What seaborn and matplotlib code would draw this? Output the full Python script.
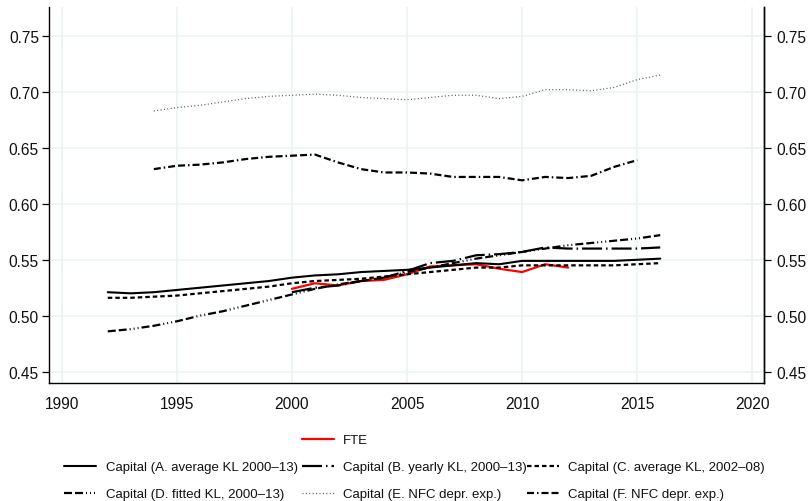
import matplotlib
matplotlib.use("Agg")
import matplotlib.pyplot as plt
import seaborn as sns
from matplotlib.lines import Line2D

sns.set_theme(style="white")
plt.rcParams["font.family"] = ["Liberation Sans", "DejaVu Sans"]
plt.rcParams["lines.scale_dashes"] = False

# ---- data -------------------------------------------------------------
years_fte = list(range(2000, 2013))
fte = [0.524, 0.529, 0.527, 0.531, 0.532, 0.537, 0.544, 0.545, 0.546,
       0.542, 0.539, 0.546, 0.543]

years_full = list(range(1992, 2017))
cap_a = [0.521, 0.520, 0.521, 0.523, 0.525, 0.527, 0.529, 0.531, 0.534,
         0.536, 0.537, 0.539, 0.540, 0.541, 0.543, 0.545, 0.547, 0.546,
         0.549, 0.549, 0.549, 0.549, 0.549, 0.550, 0.551]
cap_c = [0.516, 0.516, 0.517, 0.518, 0.520, 0.522, 0.524, 0.526, 0.529,
         0.531, 0.532, 0.533, 0.535, 0.537, 0.539, 0.541, 0.543, 0.543,
         0.545, 0.545, 0.545, 0.545, 0.545, 0.546, 0.547]
cap_d = [0.486, 0.488, 0.491, 0.495, 0.500, 0.504, 0.509, 0.514, 0.519,
         0.524, 0.528, 0.531, 0.534, 0.539, 0.543, 0.547, 0.551, 0.554,
         0.557, 0.560, 0.563, 0.565, 0.567, 0.569, 0.572]

years_b = list(range(2000, 2017))
cap_b = [0.521, 0.525, 0.527, 0.531, 0.534, 0.540, 0.547, 0.549, 0.554,
         0.555, 0.557, 0.561, 0.560, 0.560, 0.560, 0.560, 0.561]

years_e = list(range(1994, 2017))
cap_e = [0.683, 0.686, 0.688, 0.691, 0.694, 0.696, 0.697, 0.698, 0.697,
         0.695, 0.694, 0.693, 0.695, 0.697, 0.697, 0.694, 0.696, 0.702,
         0.702, 0.701, 0.704, 0.711, 0.715]

years_f = list(range(1994, 2016))
cap_f = [0.631, 0.634, 0.635, 0.637, 0.640, 0.642, 0.643, 0.644, 0.637,
         0.631, 0.628, 0.628, 0.627, 0.624, 0.624, 0.624, 0.621, 0.624,
         0.623, 0.625, 0.633, 0.639]

labels = ["FTE",
          "Capital (A. average KL 2000\u201313)",
          "Capital (B. yearly KL, 2000\u201313)",
          "Capital (C. average KL, 2002\u201308)",
          "Capital (D. fitted KL, 2000\u201313)",
          "Capital (E. NFC depr. exp.)",
          "Capital (F. NFC depr. exp.)"]

yticks = [0.45, 0.50, 0.55, 0.60, 0.65, 0.70, 0.75]
xticks = [1990, 1995, 2000, 2005, 2010, 2015, 2020]

# ---- styles (dash patterns given in pixels, converted to points) -------
PX = 0.72


def pat(*px):
    return (0, tuple(v * PX for v in px))


styles = [
    dict(color="#ff0000", lw=1.6, ls="-"),
    dict(color="black", lw=1.5, ls="-"),
    dict(color="black", lw=1.6, ls=pat(20, 4, 1.5, 4)),
    dict(color="black", lw=1.6, ls=pat(4.5, 3)),
    dict(color="black", lw=1.6, ls=pat(8, 3, 8, 3, 1, 3, 1, 3, 1, 3)),
    dict(color="#555555", lw=0.9, ls=pat(1, 2.4)),
    dict(color="black", lw=1.6, ls=pat(7, 3, 1.5, 3, 7, 3)),
]

series = [(years_fte, fte), (years_full, cap_a), (years_b, cap_b),
          (years_full, cap_c), (years_full, cap_d), (years_e, cap_e),
          (years_f, cap_f)]

# ---- figure -----------------------------------------------------------
W, H = 808, 502
fig = plt.figure(figsize=(W / 100, H / 100), dpi=100)
ax = fig.add_axes([49.3 / W, 1 - 384.3 / H, (764.3 - 49.3) / W,
                   (384.3 - 8.3) / H])

for (xs, ys), st in zip(series, styles):
    sns.lineplot(x=xs, y=ys, ax=ax, color=st["color"], linewidth=st["lw"],
                 linestyle=st["ls"], legend=False)

ax.set_xlim(1989.46, 2020.52)
ax.set_ylim(0.4396, 0.7756)
ax.set_xticks(xticks)
ax.set_yticks(yticks)
ax.set_yticklabels([f"{v:.2f}" for v in yticks])
grid_c = "#eaf2f3"
ax.grid(True, color=grid_c, linewidth=1.1)
ax.set_axisbelow(True)

for s in ["left", "bottom", "right"]:
    ax.spines[s].set_visible(True)
    ax.spines[s].set_color("black")
    ax.spines[s].set_linewidth(1.0)
ax.spines["top"].set_visible(False)

FS = 11.2
ax.tick_params(axis="both", which="major", direction="out", length=5,
               width=0.9, color="black", labelsize=FS, labelcolor="#111111")
ax.tick_params(axis="x", pad=4.0)
ax.tick_params(axis="y", pad=2.5)
ax.set_xlabel("")
ax.set_ylabel("")

ax2 = ax.twinx()
ax2.set_ylim(ax.get_ylim())
ax2.set_yticks(yticks)
ax2.set_yticklabels([f"{v:.2f}" for v in yticks])
ax2.grid(False)
for s in ["left", "bottom", "top"]:
    ax2.spines[s].set_visible(False)
ax2.spines["right"].set_color("black")
ax2.spines["right"].set_linewidth(1.0)
ax2.tick_params(axis="y", direction="out", length=5, width=0.9,
                color="black", labelsize=FS, labelcolor="#111111", pad=3.5)

# ---- legend: one entry per slot ---------------------------------------
LFS = 9.5
lfs_px = LFS * 100 / 72
slots = [(301.7, 441.0), (64.3, 468.3), (301.7, 468.3), (527.0, 468.3),
         (64.3, 495.0), (301.7, 495.0), (527.0, 495.0)]
for lab, st, (px, py) in zip(labels, styles, slots):
    h = Line2D([], [], color=st["color"], lw=st["lw"], linestyle=st["ls"])
    fig.legend(handles=[h], labels=[lab], loc="center left",
               bbox_to_anchor=(px / W, 1 - py / H), frameon=False,
               fontsize=LFS, borderpad=0, borderaxespad=0,
               handlelength=32 / lfs_px, handletextpad=9.5 / lfs_px,
               labelcolor="#111111")

fig.savefig("out.png", dpi=100, facecolor="white")
